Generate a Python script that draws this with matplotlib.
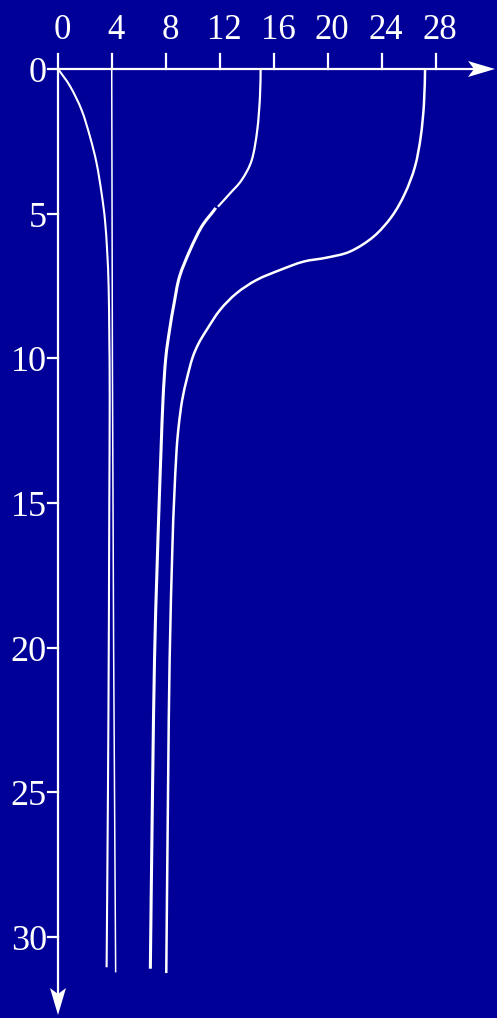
import numpy as np
import matplotlib
matplotlib.use('Agg')
import matplotlib.pyplot as plt
from matplotlib.patches import Polygon, PathPatch
from matplotlib.path import Path

# values: (x value, depth) pairs
curve_a_x = [0, 0.9, 1.75, 2.37, 2.86, 3.23, 3.48, 3.65, 3.75, 3.8, 3.83, 3.8, 3.78, 3.76, 3.7, 3.6]
curve_a_d = [0, 0.6, 1.42, 2.34, 3.26, 4.3, 5.22, 6.37, 7.52, 9.25, 11.44, 15, 17.5, 20, 25, 31.05]

line_b_x = [3.98, 4.03, 4.12, 4.27]
line_b_d = [0, 10, 20, 31.2]

# curve C has a small break near depth 5: upper part thinner, lower part thicker
curve_c_top_x = [15.01, 14.96, 14.76, 14.35, 13.6, 12.74, 11.85]
curve_c_top_d = [0, 0.96, 2.11, 3.15, 3.84, 4.3, 4.76]
curve_c_low_x = [11.68, 11.5, 10.64, 9.78, 9.0, 8.6, 8.27, 7.98, 7.78, 7.63, 7.5, 7.32, 7.15, 7.0, 6.84]
curve_c_low_d = [4.8, 4.92, 5.45, 6.26, 7.18, 8.1, 9.0, 10.0, 11.4, 13.2, 14.9, 17.5, 20.4, 25, 31.1]

curve_d_x = [27.19, 27.11, 26.87, 26.44, 25.7, 24.72, 23.36, 21.63, 19.9, 18.17, 16.44, 14.72,
             13.23, 12.0, 11.01, 10.4, 9.95, 9.55, 9.2, 8.95, 8.78, 8.6, 8.47, 8.27, 8.15, 8.02]
curve_d_d = [0, 1.19, 2.34, 3.38, 4.3, 5.1, 5.8, 6.31, 6.52, 6.66, 6.95, 7.29,
             7.75, 8.33, 9.02, 9.5, 10.0, 10.7, 11.44, 12.3, 13.2, 14.9, 16.6, 20.4, 25, 31.25]

x_ticks = [0, 4, 8, 12, 16, 20, 24, 28]
y_ticks = [0, 5, 10, 15, 20, 25, 30]

bg = '#000099'
W, H = 497, 1018
x0_px, y0_px = 58, 69          # where the origin sits
sx, sy = 13.5, 28.93           # pixels per unit


def smooth_path(xs, ys):
    # bezier path through the read points (catmull-rom tangents)
    pts = np.column_stack([xs, ys]).astype(float)
    verts = [pts[0]]
    codes = [Path.MOVETO]
    n = len(pts)
    for i in range(n - 1):
        p0 = pts[i - 1] if i > 0 else pts[i]
        p1, p2 = pts[i], pts[i + 1]
        p3 = pts[i + 2] if i + 2 < n else p2
        verts += [p1 + (p2 - p0) / 6, p2 - (p3 - p1) / 6, p2]
        codes += [Path.CURVE4] * 3
    return Path(verts, codes)


fig = plt.figure(figsize=(W / 100, H / 100), dpi=100, facecolor=bg)
ax = fig.add_axes([0, 0, 1, 1], facecolor=bg)
ax.set_xlim(-x0_px / sx, (W - x0_px) / sx)
ax.set_ylim((H - y0_px) / sy, -y0_px / sy)
ax.axis('off')

# axes with arrows
x_tip = (495 - x0_px) / sx
y_tip = (1015 - y0_px) / sy
ax.plot([0, x_tip - 10 / sx], [0, 0], color='white', lw=1.6, solid_capstyle='butt')
ax.plot([0, 0], [0, y_tip - 10 / sy], color='white', lw=1.6, solid_capstyle='butt')
hl, hw, notch = 27, 8, 6
ax.add_patch(Polygon([(x_tip, 0), (x_tip - hl / sx, -hw / sy),
                      (x_tip - (hl - notch) / sx, 0), (x_tip - hl / sx, hw / sy)],
                     closed=True, color='white', lw=0))
ax.add_patch(Polygon([(0, y_tip), (-hw / sx, y_tip - hl / sy),
                      (0, y_tip - (hl - notch) / sy), (hw / sx, y_tip - hl / sy)],
                     closed=True, color='white', lw=0))

font = 'Liberation Serif'
for t in x_ticks:
    ax.plot([t, t], [0, -15 / sy], color='white', lw=1.6)
    ax.text(t + 4 / sx, -30 / sy, str(t), color='white', fontsize=25, family=font,
            ha='center', va='baseline')
for t in y_ticks:
    ax.plot([0, -10 / sx], [t, t], color='white', lw=1.6)
    ax.text(-11 / sx, t + 13 / sy, str(t), color='white', fontsize=26, family=font,
            ha='right', va='baseline')

# curves
ax.plot(line_b_x, line_b_d, color='white', lw=1.1)
for xs, ds, lw in [(curve_a_x, curve_a_d, 1.5),
                   (curve_c_top_x, curve_c_top_d, 1.6),
                   (curve_c_low_x, curve_c_low_d, 2.2),
                   (curve_d_x, curve_d_d, 1.8)]:
    ax.add_patch(PathPatch(smooth_path(xs, ds), fill=False, edgecolor='white',
                           lw=lw, joinstyle='round', capstyle='butt'))

fig.savefig('out.png', dpi=100, facecolor=bg)
